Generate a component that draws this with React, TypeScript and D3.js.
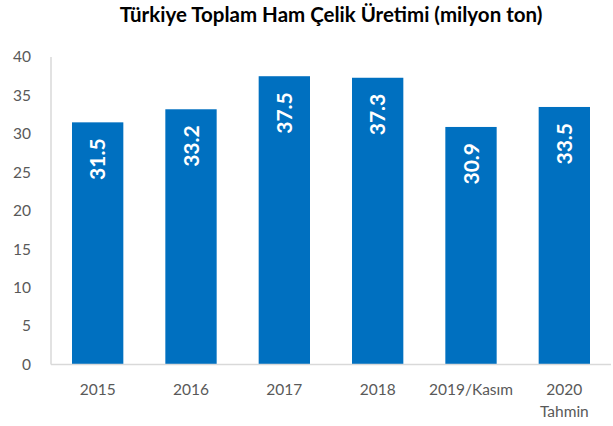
import React from "react";
import * as d3 from "d3";

const categories = ["2015", "2016", "2017", "2018", "2019/Kasım", "2020\nTahmin"];
const values = [31.5, 33.2, 37.5, 37.3, 30.9, 33.5];
const yTicks = [0, 5, 10, 15, 20, 25, 30, 35, 40];
const title = "Türkiye Toplam Ham Çelik Üretimi (milyon ton)";

const W = 613;
const H = 426;
const FONT = "Lato, 'Open Sans', sans-serif";

export default function App() {
  const x = d3
    .scaleBand<string>()
    .domain(categories)
    .range([51, 611])
    .paddingInner(0.45)
    .paddingOuter(0.225);
  const y = d3.scaleLinear().domain([0, 40]).range([364.5, 57]);

  return (
    <svg
      width={W}
      height={H}
      style={{ position: "absolute", left: 0, top: 0, background: "#fff" }}
      fontFamily={FONT}
    >
      <text x={331} y={22} textAnchor="middle" fontSize={20.5} fontWeight="bold" fill="#000">
        {title}
      </text>
      <line x1={51} x2={51} y1={y(40)} y2={y(0)} stroke="#d9d9d9" strokeWidth={1.5} />
      {yTicks.map((t) => (
        <text
          key={t}
          x={31}
          y={y(t)}
          dy="0.35em"
          textAnchor="end"
          fontSize={15.5}
          fill="#595959"
        >
          {t}
        </text>
      ))}
      {categories.map((c, i) => {
        const bx = x(c)!;
        const bw = x.bandwidth();
        const top = y(values[i]);
        const cx = bx + bw / 2;
        return (
          <g key={c}>
            <rect x={bx} y={top} width={bw} height={y(0) - top} fill="#0070C0" />
            <text
              transform={`translate(${cx + 7.5},${top + 16}) rotate(-90)`}
              textAnchor="end"
              fontSize={21}
              fontWeight="bold"
              fill="#fff"
            >
              {values[i].toFixed(1)}
            </text>
            {c.split("\n").map((line, j) => (
              <text
                key={j}
                x={cx}
                y={395 + j * 22}
                textAnchor="middle"
                fontSize={15.5}
                fill="#595959"
              >
                {line}
              </text>
            ))}
          </g>
        );
      })}
      <line x1={51} x2={611} y1={y(0)} y2={y(0)} stroke="#d9d9d9" strokeWidth={1.5} />
    </svg>
  );
}
